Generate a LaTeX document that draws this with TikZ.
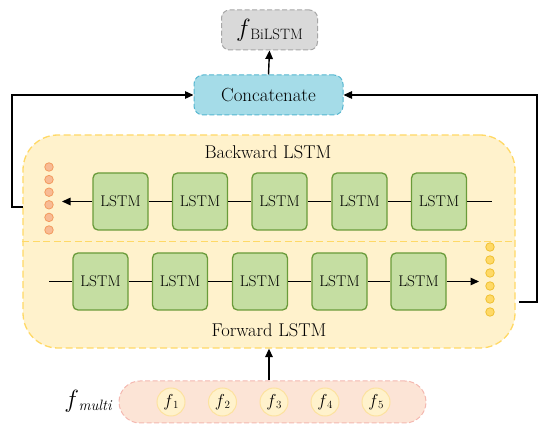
\documentclass[tikz,border=0pt]{standalone}
\usetikzlibrary{arrows.meta,calc}
\definecolor{bigfill}{HTML}{FFF2CC}
\definecolor{bigdraw}{HTML}{FFD966}
\definecolor{lstmfill}{HTML}{C5DEA2}
\definecolor{lstmdraw}{HTML}{6A9B3A}
\definecolor{catfill}{HTML}{A5DCE8}
\definecolor{catdraw}{HTML}{55B6D0}
\definecolor{grayfill}{HTML}{D9D9D9}
\definecolor{graydraw}{HTML}{A6A6A6}
\definecolor{inpfill}{HTML}{FCE4D6}
\definecolor{inpdraw}{HTML}{F4B8B0}
\definecolor{orfill}{HTML}{F8BB94}
\definecolor{ordraw}{HTML}{F39A5E}
\definecolor{yefill}{HTML}{FFD966}
\definecolor{yedraw}{HTML}{EFC030}
\definecolor{cfill}{HTML}{FFF2CC}
\definecolor{cdraw}{HTML}{FCE2A0}
\newcommand{\bigf}[3]{{\fontsize{#1}{#1}\selectfont$f$}\kern-0.5pt\raisebox{-0.28\height}{\fontsize{#2}{#2}\selectfont #3}}
\tikzset{
  arrowline/.style={line width=1.4pt,-{Triangle[length=8.5pt,width=7.5pt]}},
  plainline/.style={line width=1.4pt},
  lstmbox/.style={draw=lstmdraw,fill=lstmfill,line width=1.3pt,rounded corners=5pt,
    minimum width=55pt,minimum height=57pt,inner sep=0pt,font=\fontsize{15.5}{17}\selectfont},
  bigbox/.style={draw=bigdraw,fill=bigfill,line width=1.3pt,dash pattern=on 7pt off 3.5pt,
    rounded corners=35pt,minimum width=492pt,minimum height=213pt,inner sep=0pt},
  catbox/.style={draw=catdraw,fill=catfill,line width=1pt,dash pattern=on 5pt off 2.5pt,
    rounded corners=9pt,minimum width=149pt,minimum height=40pt,inner sep=0pt,
    font=\fontsize{19}{21}\selectfont},
  graybox/.style={draw=graydraw,fill=grayfill,line width=1pt,dash pattern=on 5pt off 2.5pt,
    rounded corners=8pt,minimum width=96pt,minimum height=40pt,inner sep=0pt},
  inpbox/.style={draw=inpdraw,fill=inpfill,line width=1pt,dash pattern=on 5pt off 2.5pt,
    rounded corners=21pt,minimum width=307pt,minimum height=42pt,inner sep=0pt},
  fcirc/.style={circle,draw=cdraw,fill=cfill,line width=1pt,minimum size=28pt,inner sep=0pt},
  ordot/.style={circle,draw=ordraw,fill=orfill,line width=0.8pt,minimum size=8.5pt,inner sep=0pt},
  yedot/.style={circle,draw=yedraw,fill=yefill,line width=0.8pt,minimum size=8.5pt,inner sep=0pt},
  divider/.style={draw=bigdraw,line width=1.3pt,dash pattern=on 7pt off 3.5pt},
  lbl/.style={font=\fontsize{18.5}{20}\selectfont,inner sep=0pt}
}
\begin{document}
\begin{tikzpicture}[x=1pt,y=-1pt]
\useasboundingbox (0,0) rectangle (550,433);
% top
\node[graybox] (fbi) at (269.5,30) {\bigf{25}{15}{BiLSTM}};
\node[catbox] (concat) at (268.5,95) {Concatenate};
% big box
\node[bigbox] (big) at (269,241.5) {};
\draw[divider] (big.west) -- (big.east);
\node[lbl] (bwt) at (268,152) {Backward LSTM};
\node[lbl] (fwt) at (269,330) {Forward LSTM};
% backward row
\foreach \i/\x in {1/120.5,2/200,3/279.5,4/359.5,5/439}{
  \node[lstmbox] (b\i) at (\x,201.5) {LSTM};
}
\foreach \i/\j in {1/2,2/3,3/4,4/5}{ \draw[plainline] (b\i) -- (b\j); }
\coordinate (bend) at (492,201.5);
\coordinate (btip) at (62,201.5);
\draw[plainline] (b5) -- (bend);
\draw[arrowline] (b1) -- (btip);
\foreach \k/\y in {1/167,2/179.6,3/192.2,4/204.8,5/217.4,6/230}{
  \node[ordot] (od\k) at (49,\y) {};
}
% forward row
\foreach \i/\x in {1/100.5,2/180,3/260,4/339.5,5/418.5}{
  \node[lstmbox] (f\i) at (\x,281.5) {LSTM};
}
\foreach \i/\j in {1/2,2/3,3/4,4/5}{ \draw[plainline] (f\i) -- (f\j); }
\coordinate (fstart) at (49,281.5);
\coordinate (ftip) at (479,281.5);
\draw[plainline] (fstart) -- (f1);
\draw[arrowline] (f5) -- (ftip);
\foreach \k/\y in {1/247,2/260,3/273,4/286,5/299,6/312}{
  \node[yedot] (yd\k) at (490,\y) {};
}
% side connectors
\coordinate (lb) at (23,207);
\coordinate (rb) at (519,302);
\draw[arrowline] (lb) -- (12,207) |- (concat.west);
\draw[arrowline] (rb) -- (537,302) |- (concat.east);
\draw[arrowline] (concat.north) -- (fbi.south);
% input
\node[inpbox] (inp) at (272.5,402) {};
\foreach \i/\x in {1/171,2/222.5,3/274,4/325,5/376}{
  \node[fcirc] (c\i) at (\x,402) {\bigf{17}{11}{\i}};
}
\node[inner sep=0pt] (fm) at (88,401) {\bigf{26}{15}{\itshape multi}};
\draw[arrowline] (big.south |- inp.north) -- (big.south);
\end{tikzpicture}
\end{document}
